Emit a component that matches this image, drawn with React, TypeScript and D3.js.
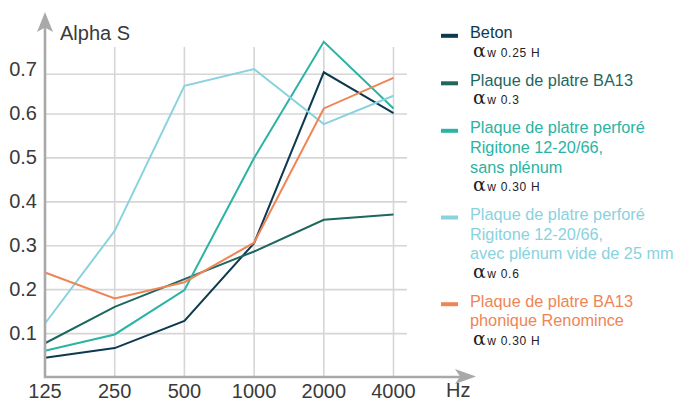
import React from "react";
import * as d3 from "d3";

const frequencies = ["125", "250", "500", "1000", "2000", "4000"];
const yTicks = [0.1, 0.2, 0.3, 0.4, 0.5, 0.6, 0.7];

const betonValues = [0.045, 0.067, 0.129, 0.306, 0.705, 0.602];
const ba13Values = [0.078, 0.161, 0.224, 0.287, 0.359, 0.371];
const perforeSansValues = [0.061, 0.098, 0.199, 0.5, 0.782, 0.614];
const perforeAvecValues = [0.123, 0.334, 0.671, 0.713, 0.577, 0.646];
const phoniqueValues = [0.239, 0.18, 0.217, 0.307, 0.614, 0.691];

const seriesNames = ["Beton", "BA13", "PerforeSans", "PerforeAvec", "Phonique"];
const seriesColors = ["#0e3a4f", "#1d675f", "#2bb3a3", "#89d2de", "#ef8556"];
const legendTitles = [
  ["Beton"],
  ["Plaque de platre BA13"],
  ["Plaque de platre perforé", "Rigitone 12-20/66,", "sans plénum"],
  ["Plaque de platre perforé", "Rigitone 12-20/66,", "avec plénum vide de 25 mm"],
  ["Plaque de platre BA13", "phonique Renomince"],
];
const legendAlpha = ["w 0.25 H", "w 0.3", "w 0.30 H", "w 0.6", "w 0.30 H"];

const allValues = [betonValues, ba13Values, perforeSansValues, perforeAvecValues, phoniqueValues];

export default function App() {
  const W = 683;
  const H = 401;
  const x = d3.scalePoint<string>().domain(frequencies).range([45, 393.5]);
  const y = d3.scaleLinear().domain([0, 0.6, 0.7]).range([377.5, 114, 74.3]);
  const line = d3
    .line<number>()
    .x((_, i) => x(frequencies[i]) as number)
    .y((d) => y(d));

  const font = "'Liberation Sans', Arial, Helvetica, sans-serif";
  const grid = "#d6d6d6";
  const axis = "#a9a9a9";

  // legend layout
  const lx = 441;
  const tx = 470;
  const lineH = 19.6;
  let cursor = 38.3;
  const legendBlocks = legendTitles.map((lines, i) => {
    const start = cursor;
    const alphaY = start + (lines.length - 1) * lineH + 18.5;
    cursor = alphaY + 29;
    return { lines, start, alphaY, i };
  });

  return (
    <svg
      width={W}
      height={H}
      style={{ position: "absolute", left: 0, top: 0, background: "#fff" }}
      fontFamily={font}
    >
      {/* vertical grid */}
      {frequencies.map((f) => (
        <line key={"vg" + f} x1={x(f)} x2={x(f)} y1={47} y2={377} stroke={grid} strokeWidth={1.6} />
      ))}
      {/* horizontal grid */}
      {yTicks.map((t) => (
        <line key={"hg" + t} x1={45} x2={407} y1={y(t)} y2={y(t)} stroke={grid} strokeWidth={1.6} />
      ))}

      {/* series */}
      {allValues.map((vals, i) => (
        <path
          key={seriesNames[i]}
          d={line(vals) as string}
          fill="none"
          stroke={seriesColors[i]}
          strokeWidth={2}
          strokeLinejoin="miter"
        />
      ))}

      {/* axes */}
      <line x1={45} x2={45} y1={378} y2={24} stroke={axis} strokeWidth={2.6} />
      <path d="M45,12 L53,32 L45,27.5 L37,32 Z" fill={axis} />
      <line x1={44} x2={466} y1={377} y2={377} stroke={axis} strokeWidth={2.6} />
      <path d="M476,376.5 L455,384 L460,376.5 L455,369 Z" fill={axis} />

      {/* y tick labels */}
      {yTicks.map((t) => (
        <text
          key={"yt" + t}
          x={37}
          y={y(t) - (t === 0.7 ? 5 : 1)}
          textAnchor="end"
          dominantBaseline="central"
          fontSize={20}
          fill="#3a3a3a"
        >
          {t.toFixed(1)}
        </text>
      ))}
      {/* x tick labels */}
      {frequencies.map((f) => (
        <text key={"xt" + f} x={x(f)} y={398} textAnchor="middle" fontSize={20} fill="#3a3a3a">
          {f}
        </text>
      ))}
      <text x={60} y={40} fontSize={20} fill="#3a3a3a">
        Alpha S
      </text>
      <text x={446} y={397} fontSize={20} fill="#3a3a3a">
        Hz
      </text>

      {/* legend */}
      {legendBlocks.map((b) => (
        <g key={"lg" + b.i}>
          <rect x={lx} y={b.start - 4.5} width={17} height={4} fill={seriesColors[b.i]} />
          {b.lines.map((l, j) => (
            <text key={j} x={tx} y={b.start + j * lineH} fontSize={16.3} fill={seriesColors[b.i]}>
              {l}
            </text>
          ))}
          <text x={473} y={b.alphaY} fill="#222">
            <tspan fontSize={19} fontFamily="'DejaVu Serif', serif">α</tspan>
            <tspan fontSize={12} dx={1.5} letterSpacing={0.7}>
              {legendAlpha[b.i]}
            </tspan>
          </text>
        </g>
      ))}
    </svg>
  );
}
